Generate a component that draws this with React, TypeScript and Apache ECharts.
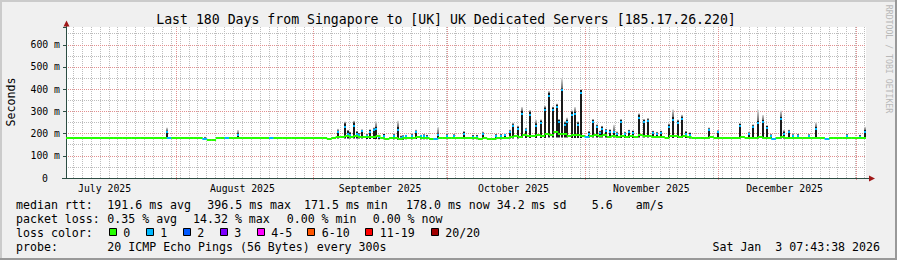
import React, { useEffect, useRef } from 'react';
import * as echarts from 'echarts';

const MONO = '"DejaVu Sans Mono", monospace';

// x unit: days since 2025-07-07 00:00
const START_DAY = 0.3217; // Jul 7 2025 07:43:38
const END_DAY = 180.3217; // Jan 3 2026 07:43:38

const monthStartDays = [25, 56, 86, 117, 147, 178];
const monthLabelDays = [9, 40, 71, 101, 132, 162];
const monthLabels = ['July 2025', 'August 2025', 'September 2025', 'October 2025', 'November 2025', 'December 2025'];

const Y_MAX = 680;

// median RTT (ms), one value per day since Jul 7 00:00
const medianRtt = [
  181, 181, 179, 181, 181, 181, 181, 181, 181, 181,
  181, 181, 181, 181, 181, 181, 181, 181, 178, 181,
  181, 181, 181, 179, 181, 181, 181, 178, 181, 181,
  181, 176, 172, 173, 181, 181, 181, 181, 181, 181,
  181, 181, 181, 181, 181, 181, 181, 181, 181, 181,
  178, 178, 181, 181, 181, 181, 181, 181, 181, 177,
  181, 183, 186, 188, 185, 188, 186, 183, 184, 186,
  188, 180, 177, 178, 182, 176, 178, 182, 181, 184,
  180, 178, 176, 174, 182, 178, 180, 179, 178, 181,
  180, 178, 181, 176, 182, 177, 175, 180, 179, 182,
  185, 190, 186, 192, 188, 190, 195, 188, 200, 195,
  205, 198, 196, 190, 195, 192, 188, 184, 190, 195,
  188, 192, 186, 190, 185, 188, 184, 190, 186, 192,
  188, 190, 185, 183, 186, 182, 188, 190, 186, 188,
  183, 179, 178, 178, 179, 183, 181, 182, 180, 182,
  180, 181, 183, 180, 182, 181, 183, 182, 180, 176,
  181, 183, 182, 181, 180, 181, 180, 181, 180, 182,
  179, 177, 179, 180, 179, 180, 181, 180, 179, 180,
  178,
];
const lossDays = [23, 31, 36, 46, 83, 117, 159, 171];
const lossCounts = [1, 1, 1, 1, 1, 1, 1, 1];

// smoke spikes
const spikeDays = [
  23.1, 31.5, 39.0, 61.6, 63.0, 63.7, 64.2, 65.1, 65.8, 66.2,
  67.0, 68.1, 68.8, 69.6, 70.1, 70.7, 71.8, 74.1, 75.0, 75.6,
  76.2, 76.9, 78.2, 79.1, 80.1, 80.8, 81.6, 84.1, 86.1, 87.7,
  89.9, 91.8, 92.8, 94.1, 97.0, 98.1, 99.2, 100.2, 101.0, 102.1,
  103.0, 103.9, 104.8, 106.1, 107.1, 108.0, 109.0, 109.8, 110.7, 111.2,
  111.9, 112.6, 113.1, 114.1, 114.8, 115.6, 116.1, 118.0, 118.9, 119.9,
  120.4, 121.0, 121.9, 122.8, 123.6, 124.2, 125.1, 126.0, 127.1, 128.0,
  129.2, 130.3, 131.3, 132.3, 133.4, 134.3, 136.1, 137.0, 138.0, 139.0,
  139.9, 140.8, 145.0, 147.1, 152.0, 154.0, 155.0, 156.1, 157.1, 158.1,
  158.9, 161.1, 161.9, 163.0, 163.8, 165.1, 167.4, 169.1, 176.1, 178.9,
  180.0,
];
const spikeLow = [
  176, 172, 178, 178, 178, 178, 178, 178, 178, 178,
  178, 176, 176, 176, 176, 174, 174, 174, 172, 172,
  172, 174, 174, 176, 174, 174, 174, 176, 176, 176,
  176, 174, 174, 176, 174, 174, 176, 178, 178, 178,
  180, 180, 180, 180, 180, 180, 182, 182, 182, 182,
  182, 182, 182, 180, 180, 180, 180, 182, 182, 182,
  182, 182, 182, 182, 182, 180, 180, 180, 180, 180,
  182, 182, 182, 180, 180, 180, 180, 180, 180, 180,
  180, 178, 178, 178, 178, 178, 178, 178, 178, 178,
  176, 178, 178, 178, 178, 178, 178, 178, 178, 178,
  178,
];
const spikeHigh = [
  213, 182, 201, 213, 246, 213, 205, 250, 208, 200,
  216, 196, 216, 223, 230, 192, 198, 196, 230, 188,
  190, 192, 196, 212, 193, 195, 192, 200, 196, 195,
  207, 192, 192, 204, 196, 196, 198, 213, 242, 230,
  302, 222, 298, 246, 258, 318, 383, 318, 330, 261,
  404, 250, 261, 298, 300, 250, 396, 208, 261, 238,
  210, 231, 218, 216, 213, 205, 261, 205, 215, 212,
  284, 261, 265, 210, 205, 210, 240, 276, 258, 276,
  208, 203, 223, 212, 243, 204, 238, 258, 261, 234,
  195, 276, 209, 214, 195, 196, 195, 230, 196, 192,
  216,
];
const spikeTop = [
  227, 186, 216, 222, 255, 216, 208, 258, 212, 203,
  220, 200, 220, 228, 255, 196, 200, 200, 258, 192,
  194, 195, 199, 218, 196, 198, 195, 230, 199, 198,
  212, 195, 195, 208, 198, 198, 200, 218, 250, 236,
  320, 226, 306, 262, 265, 325, 392, 322, 336, 266,
  449, 256, 272, 305, 320, 256, 400, 212, 266, 242,
  214, 235, 222, 220, 240, 210, 266, 208, 218, 215,
  292, 266, 270, 214, 208, 214, 246, 309, 264, 285,
  212, 206, 228, 216, 248, 208, 242, 306, 284, 238,
  198, 303, 216, 218, 198, 199, 198, 250, 199, 195,
  231,
];
const spikeMedian = [
  205, 176, 195, 205, 228, 200, 195, 232, 198, 192,
  212, 190, 208, 215, 222, 186, 190, 188, 215, 182,
  185, 188, 190, 205, 188, 188, 186, 195, 190, 188,
  200, 186, 186, 196, 190, 190, 192, 205, 232, 222,
  290, 215, 285, 236, 248, 305, 370, 305, 318, 250,
  396, 240, 250, 285, 288, 240, 385, 200, 250, 228,
  202, 222, 210, 208, 205, 198, 250, 198, 206, 204,
  272, 250, 255, 202, 198, 202, 230, 262, 246, 265,
  200, 195, 215, 205, 232, 196, 228, 248, 250, 225,
  188, 265, 200, 205, 188, 188, 188, 220, 188, 186,
  208,
];

const lossColors = ['#26ff00', '#00b8ff', '#0059ff', '#7e00ff', '#ff00ff', '#ff5500', '#ff0000', '#a10000'];
const lossLabels = ['0', '1', '2', '3', '4-5', '6-10', '11-19', '20/20'];

const titleText = 'Last 180 Days from Singapore to [UK] UK Dedicated Servers [185.17.26.220]';
const medianStats = ['191.6 ms avg', '396.5 ms max', '171.5 ms min', '178.0 ms now', '34.2 ms sd', '5.6', 'am/s'];
const lossStats = ['0.35 % avg', '14.32 % max', '0.00 % min', '0.00 % now'];
const probeText = '20 ICMP Echo Pings (56 Bytes) every 300s';
const dateText = 'Sat Jan  3 07:43:38 2026';

const GRID_GRAY = '#bdbdbd';
const GRID_RED = '#e39090';

function lossColor(n: number): string {
  if (n <= 0) return lossColors[0];
  if (n === 1) return lossColors[1];
  if (n === 2) return lossColors[2];
  if (n === 3) return lossColors[3];
  if (n <= 5) return lossColors[4];
  if (n <= 10) return lossColors[5];
  if (n <= 19) return lossColors[6];
  return lossColors[7];
}

function vGridSeries(days: number[], color: string, z: number, below: number) {
  return {
    type: 'custom', z, silent: true, clip: false,
    data: days.map((d) => [d, 0]),
    encode: { x: 0, y: 1 },
    renderItem: (params: any, api: any) => {
      const d = api.value(0);
      const p = api.coord([d, 0]);
      const t = api.coord([d, Y_MAX]);
      const x = Math.round(p[0]) + 0.5;
      return {
        type: 'line',
        shape: { x1: x, y1: Math.round(t[1]), x2: x, y2: Math.round(p[1]) + below },
        style: { stroke: color, lineWidth: 1, lineDash: [1, 1], fill: 'none' },
      };
    },
  };
}

export default function App() {
  const ref = useRef<HTMLDivElement>(null);
  useEffect(() => {
    if (!ref.current) return;
    const chart = echarts.init(ref.current, undefined, { renderer: 'svg' });

    const minorDays: number[] = [];
    for (let d = 1.9; d < END_DAY; d += 2) minorDays.push(d);

    const medianData = medianRtt.map((v, i) => {
      const k = lossDays.indexOf(i);
      return [i, v, k >= 0 ? lossCounts[k] : 0];
    });
    const spikeData = spikeDays.map((d, i) => [d, spikeLow[i], spikeHigh[i], spikeTop[i], spikeMedian[i]]);

    const txt = (text: string, x: number, y: number, size: number, extra: any = {}) => ({
      type: 'text', x, y, silent: true, z: 20,
      style: { text, fontSize: size, fontFamily: MONO, fill: '#000', textAlign: 'left', textVerticalAlign: 'middle', ...extra },
    });

    const graphics: any[] = [
      { type: 'rect', shape: { x: 0, y: 0, width: 897, height: 2 }, style: { fill: '#cbcbcb' }, silent: true },
      { type: 'rect', shape: { x: 0, y: 0, width: 2, height: 260 }, style: { fill: '#cbcbcb' }, silent: true },
      { type: 'rect', shape: { x: 0, y: 258, width: 897, height: 2 }, style: { fill: '#999999' }, silent: true },
      { type: 'rect', shape: { x: 895, y: 0, width: 2, height: 260 }, style: { fill: '#999999' }, silent: true },
      txt(titleText, 446, 19.5, 13.2, { textAlign: 'center' }),
      { type: 'text', x: 11, y: 102, rotation: Math.PI / 2, silent: true, z: 20,
        style: { text: 'Seconds', fontSize: 11.6, fontFamily: MONO, fill: '#000', textAlign: 'center', textVerticalAlign: 'middle' } },
      { type: 'text', x: 889, y: 59, rotation: -Math.PI / 2, silent: true, z: 20,
        style: { text: 'RRDTOOL / TOBI OETIKER', fontSize: 8.2, fontFamily: MONO, fill: '#b8b8b8', textAlign: 'center', textVerticalAlign: 'middle' } },
      // axis extensions and arrows
      { type: 'line', shape: { x1: 66.5, y1: 27, x2: 66.5, y2: 24 }, style: { stroke: '#2c4d43', lineWidth: 1 }, silent: true, z: 20 },
      { type: 'polygon', shape: { points: [[63.5, 26.5], [69.5, 26.5], [66.5, 20.5]] }, style: { fill: '#a01818' }, silent: true, z: 20 },
      { type: 'line', shape: { x1: 62, y1: 178.5, x2: 66, y2: 178.5 }, style: { stroke: '#2c4d43', lineWidth: 1 }, silent: true, z: 20 },
      { type: 'line', shape: { x1: 866, y1: 178.5, x2: 870, y2: 178.5 }, style: { stroke: '#2c4d43', lineWidth: 1 }, silent: true, z: 20 },
      { type: 'polygon', shape: { points: [[869, 175.5], [869, 181.5], [875, 178.5]] }, style: { fill: '#a01818' }, silent: true, z: 20 },
      // legend
      txt('median rtt:', 16, 204.5, 11.6),
      txt('packet loss:', 16, 218.5, 11.6),
      txt('loss color:', 16, 232.5, 11.6),
      txt('probe:', 16, 246.5, 11.6),
      txt(probeText, 107.3, 246.5, 11.6),
      txt(dateText, 880, 246.5, 11.6, { textAlign: 'right' }),
    ];
    const medX = [107.3, 207.3, 304, 406, 496.7, 591.7, 635.7];
    medianStats.forEach((s, i) => graphics.push(txt(s, medX[i], 204.5, 11.6)));
    const lossX = [107.3, 193, 286.7, 372.7];
    lossStats.forEach((s, i) => graphics.push(txt(s, lossX[i], 218.5, 11.6)));
    const boxX = [108.7, 145.7, 182.7, 219.7, 256.7, 307.3, 365.3, 430.7];
    lossLabels.forEach((l, i) => {
      graphics.push({ type: 'rect', shape: { x: Math.round(boxX[i]) + 0.5, y: 228.5, width: 7, height: 7 },
        style: { fill: lossColors[i], stroke: '#000', lineWidth: 1 }, silent: true, z: 20 });
      graphics.push(txt(l, boxX[i] + 14.5, 232.5, 11.6));
    });

    const option: any = {
      animation: false,
      backgroundColor: '#f0f0f0',
      textStyle: { fontFamily: MONO },
      grid: { left: 66, top: 27, width: 800, height: 151, show: true, backgroundColor: '#ffffff', borderWidth: 0 },
      xAxis: [{
        type: 'value', min: START_DAY, max: END_DAY,
        axisLine: { show: true, lineStyle: { color: '#2c4d43', width: 1 } },
        axisTick: { show: false },
        splitLine: { show: false },
        axisLabel: {
          customValues: monthLabelDays,
          formatter: (v: number) => { const k = monthLabelDays.indexOf(Math.round(v)); return k >= 0 ? monthLabels[k] : ''; },
          fontFamily: MONO, fontSize: 9.8, color: '#000', margin: 5,
        },
      }],
      yAxis: [{
        type: 'value', min: 0, max: Y_MAX, interval: 100, z: 2,
        axisLine: { show: true, lineStyle: { color: '#2c4d43', width: 1 } },
        axisTick: { show: true, length: 3, lineStyle: { color: '#2c4d43' } },
        axisLabel: {
          fontFamily: MONO, fontSize: 9.8, color: '#000', margin: 6,
          formatter: (v: number) => (v % 100 !== 0 ? '' : v === 0 ? '{z|0}' : v + ' m'),
          rich: { z: { fontFamily: MONO, fontSize: 9.8, color: '#000', padding: [0, 12, 0, 0] } },
        },
        splitLine: { show: true, showMaxLine: false, showMinLine: false, lineStyle: { color: GRID_RED, type: [1, 1], width: 1 } },
      }, {
        type: 'value', min: 0, max: Y_MAX, interval: 50, position: 'left', z: 1,
        axisLine: { show: false }, axisTick: { show: false }, axisLabel: { show: false },
        splitLine: { show: true, showMaxLine: false, showMinLine: false, lineStyle: { color: GRID_GRAY, type: [1, 1], width: 1 } },
      }],
      graphic: { elements: graphics },
      series: [
        vGridSeries(minorDays, GRID_GRAY, 1, 0),
        vGridSeries(monthStartDays, GRID_RED, 2, 3),
        {
          type: 'custom', z: 5, clip: true, silent: true,
          data: spikeData,
          encode: { x: 0, y: 1 },
          renderItem: (params: any, api: any) => {
            const d = api.value(0), lo = api.value(1), hi = api.value(2), top = api.value(3), med = api.value(4);
            const pLo = api.coord([d, lo]);
            const pHi = api.coord([d, hi]);
            const pTop = api.coord([d, top]);
            const pMed = api.coord([d, med]);
            const x = Math.round(pLo[0]) - 1;
            return {
              type: 'group',
              children: [
                { type: 'rect', shape: { x, y: pTop[1], width: 2, height: Math.max(0, pHi[1] - pTop[1]) },
                  style: { fill: new echarts.graphic.LinearGradient(0, 0, 0, 1, [
                    { offset: 0, color: '#dcdcdc' }, { offset: 1, color: '#6a6a6a' }]) } },
                { type: 'rect', shape: { x, y: pHi[1], width: 2, height: Math.max(0, pLo[1] - pHi[1]) }, style: { fill: '#1a1a1a' } },
                { type: 'rect', shape: { x, y: Math.round(pMed[1]) - 1, width: 2, height: 2 }, style: { fill: lossColors[1] } },
              ],
            };
          },
        },
        {
          type: 'custom', z: 6, clip: true, silent: true,
          data: medianData,
          encode: { x: 0, y: 1 },
          renderItem: (params: any, api: any) => {
            const d = api.value(0), v = api.value(1), loss = api.value(2);
            const a = api.coord([d, v]);
            const b = api.coord([d + 1, v]);
            return { type: 'rect', shape: { x: a[0], y: Math.round(a[1]) - 1, width: b[0] - a[0] + 0.4, height: 2 },
              style: { fill: lossColor(loss) } };
          },
        },
      ],
    };
    chart.setOption(option);
    return () => chart.dispose();
  }, []);
  return <div ref={ref} style={{ position: 'fixed', left: 0, top: 0, width: 897, height: 260 }} />;
}
